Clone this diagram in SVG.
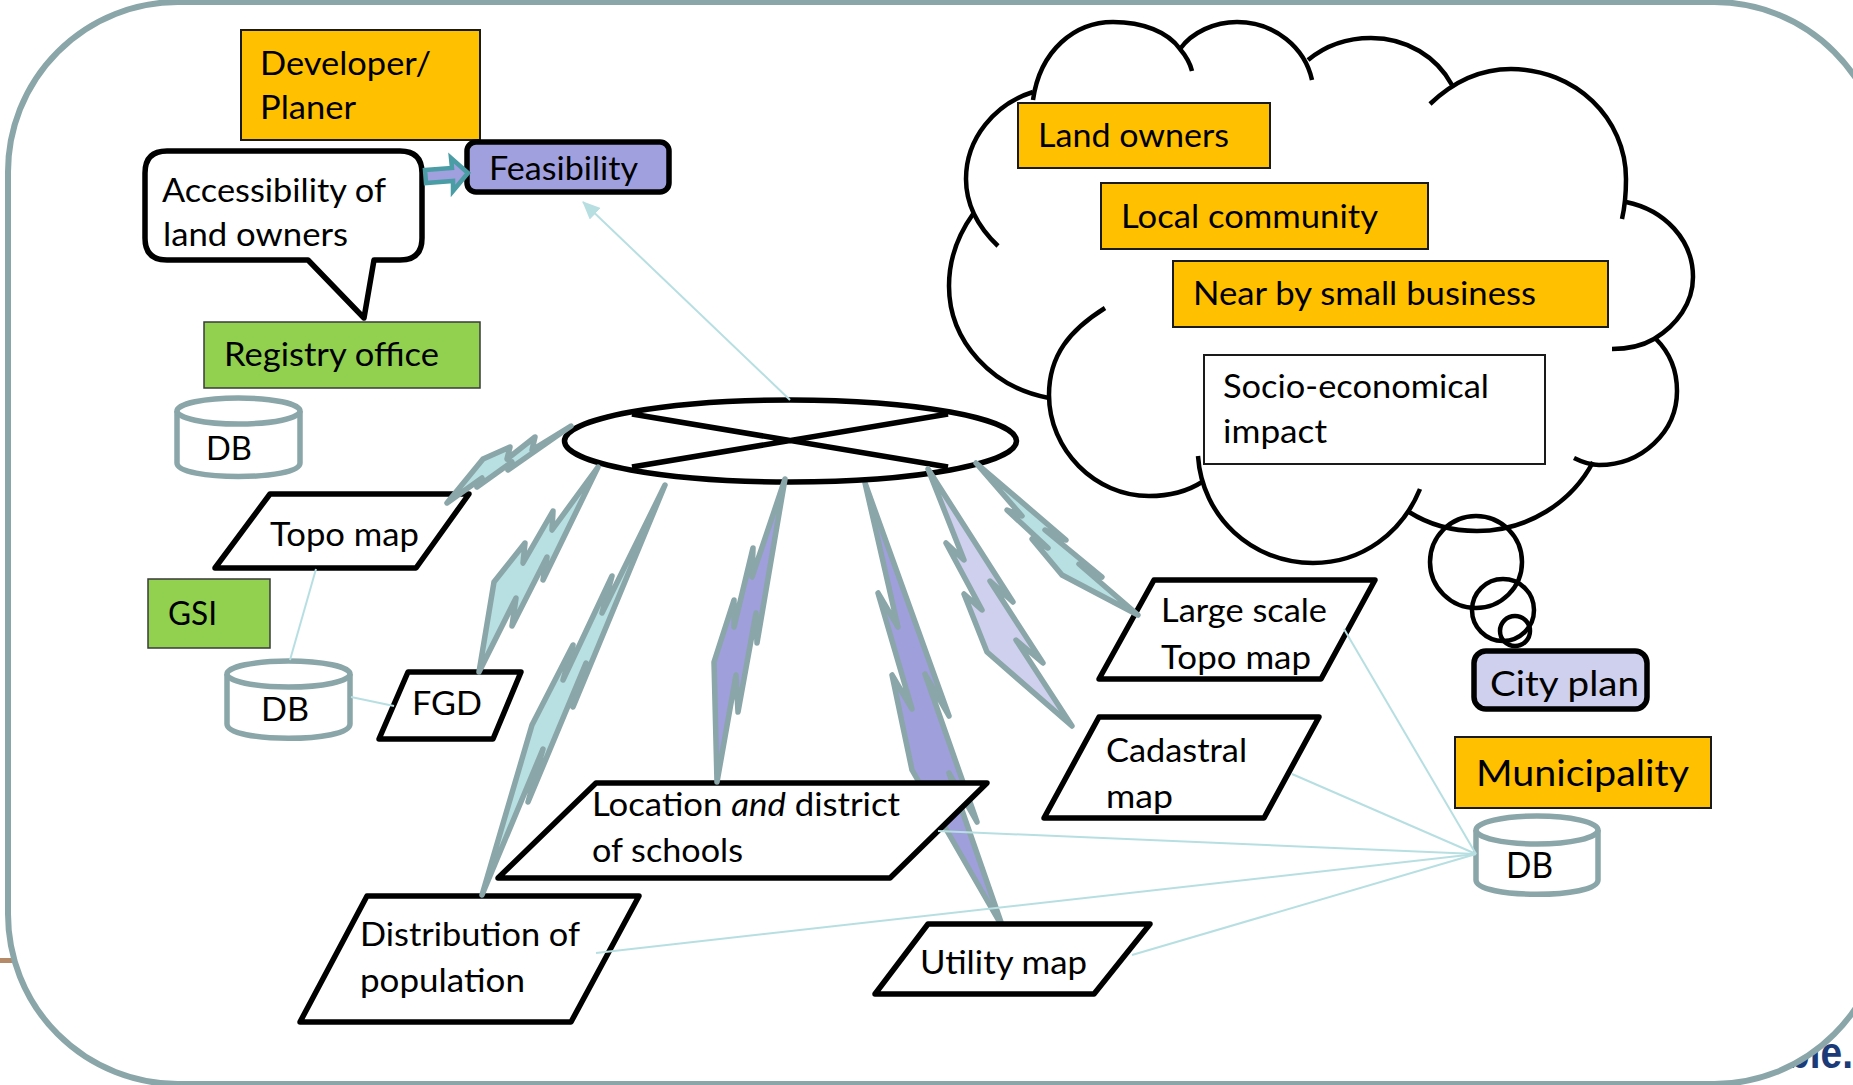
<svg xmlns="http://www.w3.org/2000/svg" width="1853" height="1085" viewBox="0 0 1853 1085">
<defs>
<marker id="ah" markerUnits="userSpaceOnUse" markerWidth="18" markerHeight="16" refX="17" refY="8" orient="auto"><path d="M0,0 L18,8 L0,16 Z" fill="#b7dfe2"/></marker>
</defs>
<style>
text{font-family:"Lato","Carlito","Open Sans",sans-serif;font-size:32px;fill:#000}
.big{font-size:36px}
.org{fill:#ffc000;stroke:#1a1a1a;stroke-width:2}
.grn{fill:#92d050;stroke:#3a3a3a;stroke-width:1.5}
.wht{fill:#fff;stroke:#1a1a1a;stroke-width:2}
.pg{fill:#fff;stroke:#000;stroke-width:5.5;stroke-linejoin:round}
.cyl{fill:#fff;stroke:#8aa6a9;stroke-width:5.5}
.bolt{stroke:#8aa6a9;stroke-width:5.5;stroke-linejoin:round}
.b1{fill:#b8e0e3}.b2{fill:#9f9fdc}.b3{fill:#cfd0ee}
.thin{fill:none;stroke:#b7dfe2;stroke-width:2}
.cl{fill:none;stroke:#000;stroke-width:4.5}
</style>
<rect width="1853" height="1085" fill="#fff"/>
<g id="background">
<rect x="0" y="958" width="16" height="5" fill="#b58a68"/>
<text x="1786" y="1068" textLength="67" lengthAdjust="spacingAndGlyphs" style="font-family:'Liberation Sans',sans-serif;font-size:44px;font-weight:bold;fill:#1b3a78">ble.</text>
<rect id="frame" x="8" y="2" width="1876" height="1082" rx="170" ry="170" fill="#fff" stroke="#8aa6a9" stroke-width="6"/>
</g>
<g id="connectors-back">
<polygon class="bolt b2" points="865,483 898,627 878,593 912,709 892,675 912,770 1003,928 949,773 977,822 925,674 949,716"/>
</g>
<g id="developer"><rect class="org" x="241" y="30" width="239" height="110"/>
<text x="260" y="75" textLength="171" lengthAdjust="spacingAndGlyphs">Developer/</text><text x="260" y="119" textLength="96" lengthAdjust="spacingAndGlyphs">Planer</text></g>
<g id="feasibility"><rect x="467" y="142" width="202" height="50" rx="9" fill="#a0a0df" stroke="#000" stroke-width="5.5"/>
<text x="489" y="180" textLength="149" lengthAdjust="spacingAndGlyphs">Feasibility</text></g>
<g id="accessibility"><path d="M167,151 H400 Q422,151 422,173 V238 Q422,260 400,260 H374 L364,318 L308,260 H167 Q145,260 145,238 V173 Q145,151 167,151 Z" fill="#fff" stroke="#000" stroke-width="5.5" stroke-linejoin="round"/>
<text x="162" y="202" textLength="224" lengthAdjust="spacingAndGlyphs">Accessibility of</text><text x="163" y="246" textLength="185" lengthAdjust="spacingAndGlyphs">land owners</text></g>
<g id="registry"><rect class="grn" x="204" y="322" width="276" height="66"/>
<text x="224" y="366" textLength="215" lengthAdjust="spacingAndGlyphs">Registry office</text></g>
<g id="db1"><path class="cyl" d="M177,411 V463 C177,481 300,481 300,463 V411"/><ellipse class="cyl" cx="238.500" cy="411" rx="61.500" ry="13"/>
<text x="206" y="460" textLength="46" lengthAdjust="spacingAndGlyphs">DB</text></g>
<g id="hub"><ellipse cx="790.500" cy="441" rx="226" ry="41" fill="#fff" stroke="#000" stroke-width="5.5"/>
<path d="M632,414 L948,467 M632,467 L948,414" fill="none" stroke="#000" stroke-width="5.5"/></g>
<g id="topo"><polygon class="pg" points="215,568 270,494 469,494 416,568"/>
<text x="270" y="546" textLength="149" lengthAdjust="spacingAndGlyphs">Topo map</text></g>
<g id="gsi"><rect class="grn" x="148" y="579" width="122" height="69"/>
<text x="168" y="625" textLength="49" lengthAdjust="spacingAndGlyphs">GSI</text></g>
<g id="db2"><path class="cyl" d="M227,674 V724 C227,743 350,743 350,724 V674"/><ellipse class="cyl" cx="288.500" cy="674" rx="61.500" ry="13"/>
<text x="261" y="721" textLength="48" lengthAdjust="spacingAndGlyphs">DB</text></g>
<g id="fgd"><polygon class="pg" points="379,739 408,672 521,672 493,739"/>
<text x="412" y="715" textLength="70" lengthAdjust="spacingAndGlyphs">FGD</text></g>
<g id="location"><polygon class="pg" points="498,878 596,783 987,783 890,878"/>
<text x="592" y="816" textLength="308" lengthAdjust="spacingAndGlyphs">Location <tspan font-style="italic">and</tspan> district</text><text x="592" y="862" textLength="151" lengthAdjust="spacingAndGlyphs">of schools</text></g>
<g id="distribution"><polygon class="pg" points="300,1022 367,896 639,896 571,1022"/>
<text x="360" y="946" textLength="220" lengthAdjust="spacingAndGlyphs">Distribution of</text><text x="360" y="992" textLength="165" lengthAdjust="spacingAndGlyphs">population</text></g>
<g id="utility"><polygon class="pg" points="875,994 928,924 1150,924 1094,994"/>
<text x="920" y="974" textLength="167" lengthAdjust="spacingAndGlyphs">Utility map</text></g>
<g id="cadastral"><polygon class="pg" points="1044,818 1099,717 1319,717 1264,818"/>
<text x="1106" y="762" textLength="141" lengthAdjust="spacingAndGlyphs">Cadastral</text><text x="1106" y="808" textLength="67" lengthAdjust="spacingAndGlyphs">map</text></g>
<g id="largescale"><polygon class="pg" points="1099,679 1154,580 1375,580 1321,679"/>
<text x="1161" y="622" textLength="166" lengthAdjust="spacingAndGlyphs">Large scale</text><text x="1161" y="669" textLength="150" lengthAdjust="spacingAndGlyphs">Topo map</text></g>
<g id="cloud">
<path class="cl" d="M1033,100 C1040,50 1075,22 1113,22 C1143,22 1168,32 1180,49 C1186,56 1190,63 1192,71"/>
<path class="cl" d="M1180,49 C1192,32 1215,22 1237,22 C1275,22 1305,48 1312,80"/>
<path class="cl" d="M1308,60 C1325,46 1347,38 1371,38 C1407,38 1437,57 1452,85"/>
<path class="cl" d="M1430,104 C1452,83 1480,69 1511,69 C1575,69 1626,118 1626,179 C1626,193 1625,206 1622,219"/>
<path class="cl" d="M1626,202 C1665,210 1693,240 1693,277 C1693,303 1677,325 1654,339 C1642,346 1627,349 1612,349"/>
<path class="cl" d="M1656,339 C1670,353 1677,371 1677,391 C1677,432 1642,465 1599,465 C1590,465 1582,462 1574,458"/>
<path class="cl" d="M1593,462 C1572,502 1528,531 1477,531 C1452,531 1428,524 1409,512"/>
<path class="cl" d="M1420,489 C1402,533 1362,563 1313,563 C1252,563 1202,517 1198,456"/>
<path class="cl" d="M1105,308 C1070,330 1049,355 1049,395 C1049,450 1095,496 1149,496 C1170,496 1188,491 1202,482"/>
<path class="cl" d="M1049,398 C993,388 949,342 949,286 C949,260 958,235 973,214"/>
<path class="cl" d="M998,246 C978,227 966,204 966,179 C966,138 995,104 1033,92"/>
<circle class="cl" cx="1476" cy="562" r="46"/><circle class="cl" cx="1503" cy="610" r="31"/><circle class="cl" cx="1515" cy="631" r="15"/>
</g>
<g id="landowners"><rect class="org" x="1018" y="103" width="252" height="65"/>
<text x="1038" y="147" textLength="191" lengthAdjust="spacingAndGlyphs">Land owners</text></g>
<g id="community"><rect class="org" x="1101" y="183" width="327" height="66"/>
<text x="1121" y="228" textLength="257" lengthAdjust="spacingAndGlyphs">Local community</text></g>
<g id="business"><rect class="org" x="1173" y="261" width="435" height="66"/>
<text x="1193" y="305" textLength="343" lengthAdjust="spacingAndGlyphs">Near by small business</text></g>
<g id="socio"><rect class="wht" x="1204" y="355" width="341" height="109"/>
<text x="1223" y="398" textLength="266" lengthAdjust="spacingAndGlyphs">Socio-economical</text><text x="1223" y="443" textLength="104" lengthAdjust="spacingAndGlyphs">impact</text></g>
<g id="cityplan"><rect x="1474" y="651" width="173" height="58" rx="12" fill="#cfd0ee" stroke="#000" stroke-width="5.5"/>
<text x="1490" y="696" textLength="149" lengthAdjust="spacingAndGlyphs" style="font-size:34px">City plan</text></g>
<g id="municipality"><rect class="org" x="1455" y="737" width="256" height="71"/>
<text class="big" x="1476" y="786" textLength="213" lengthAdjust="spacingAndGlyphs">Municipality</text></g>
<g id="db3"><path class="cyl" d="M1476,830 V880 C1476,899 1598,899 1598,880 V830"/><ellipse class="cyl" cx="1537" cy="830" rx="61" ry="14"/>
<text class="big" x="1506" y="878" textLength="47" lengthAdjust="spacingAndGlyphs">DB</text></g>
<g id="connectors">
<line class="thin" x1="790" y1="400" x2="583" y2="202" marker-end="url(#ah)"/>
<line class="thin" x1="316" y1="569" x2="290" y2="660"/>
<line class="thin" x1="351" y1="697" x2="394" y2="706"/>
<line class="thin" x1="1344" y1="629" x2="1476" y2="854"/>
<line class="thin" x1="1292" y1="774" x2="1476" y2="854"/>
<line class="thin" x1="938" y1="831" x2="1476" y2="854"/>
<line class="thin" x1="596" y1="953" x2="1476" y2="854"/>
<line class="thin" x1="1132" y1="955" x2="1476" y2="854"/>
<polygon points="425,170 452,168 451,158 468,173 453,191 453,181 426,183" fill="#a0a0df" stroke="#4a9ca5" stroke-width="4.5"/>
<polygon class="bolt b1" points="571,426 532,450 535,437 507,459 510,447 483,459 447,503 482,478 477,487 512,462 508,470"/>
<polygon class="bolt b1" points="598,467 552,530 553,511 523,563 525,543 494,582 479,672 516,598 512,626 547,557 543,580"/>
<polygon class="bolt b1" points="665,485 602,613 612,576 563,680 573,645 532,725 482,895 543,749 528,802 586,663 573,707"/>
<polygon class="bolt b2" points="785,479 752,577 753,548 734,627 734,600 714,662 717,782 736,675 738,712 756,613 757,643"/>
<polygon class="bolt b3" points="928,469 964,560 946,543 982,610 964,594 987,652 1072,726 1016,640 1043,663 990,581 1013,602"/>
<polygon class="bolt b1" points="976,463 1022,516 1007,510 1048,548 1032,539 1062,575 1138,615 1079,564 1102,577 1045,530 1066,540"/>
</g>
</svg>
